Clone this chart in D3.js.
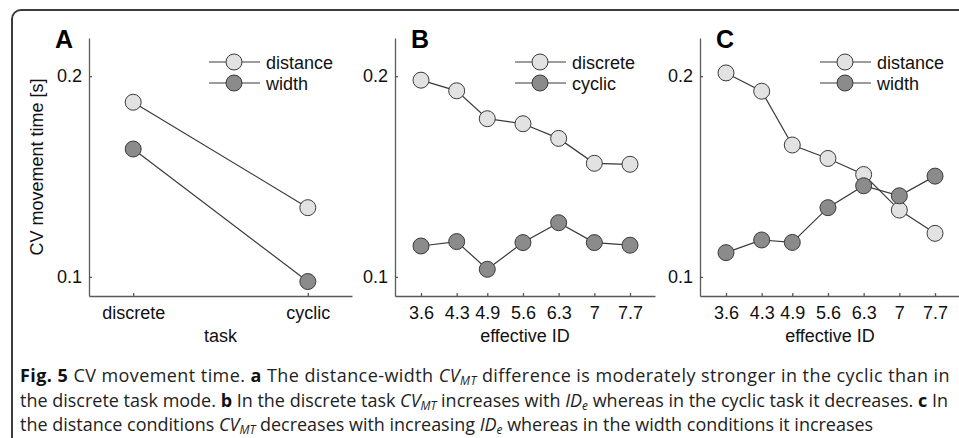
<!DOCTYPE html>
<html><head><meta charset="utf-8">
<script src="https://cdn.jsdelivr.net/npm/d3@7"></script>
<style>body{margin:0;background:#fff}svg{display:block}</style>
</head><body>
<svg id="c" width="959" height="438"></svg>
<script>
// ---------- data ----------
const taskCategories = ["discrete", "cyclic"];
const taskDistance = [0.187, 0.1345];
const taskWidth = [0.1637, 0.0977];

const effectiveID = [3.6, 4.3, 4.9, 5.6, 6.3, 7, 7.7];
const idTickLabels = ["3.6", "4.3", "4.9", "5.6", "6.3", "7", "7.7"];
const discreteByID = [0.198, 0.1927, 0.1788, 0.1763, 0.169, 0.1566, 0.1561];
const cyclicByID = [0.1154, 0.1176, 0.1038, 0.1171, 0.127, 0.1171, 0.1158];
const distanceByID = [0.2016, 0.1925, 0.1657, 0.159, 0.151, 0.1333, 0.1217];
const widthByID = [0.1121, 0.1184, 0.1172, 0.1345, 0.1454, 0.1404, 0.1502];

const yTicks = [0.1, 0.2];
const yTickLabels = ["0.1", "0.2"];

// ---------- style ----------
const FONT = "'Liberation Sans', Arimo, Arial, Helvetica, sans-serif";
const LIGHT = "#e2e2e2", DARK = "#8b8b8b", STROKE = "#3a3a3a", AXIS = "#5a5a5a";
const FS = 18;

const svg = d3.select("#c");

// outer frame
svg.append("rect").attr("x", 12).attr("y", 10).attr("width", 980).attr("height", 460)
  .attr("rx", 9).attr("fill", "none").attr("stroke", "#3c3c3c").attr("stroke-width", 2);

const y = d3.scaleLinear().domain([0.0905, 0.219]).range([296, 38]);

function panel(opts) {
  const g = svg.append("g");
  const x = opts.x;
  const [x0, x1] = x.range();
  const ya = d3.axisLeft(y).tickValues(yTicks).tickFormat((d, i) => yTickLabels[i])
    .tickSizeInner(-3).tickSizeOuter(0).tickPadding(7);
  const yg = g.append("g").attr("transform", `translate(${x0},0)`).call(ya);
  const xa = d3.axisBottom(x).tickSizeInner(-3).tickSizeOuter(0).tickPadding(10);
  if (opts.tickValues) xa.tickValues(opts.tickValues).tickFormat((d, i) => opts.tickLabels[i]);
  const xg = g.append("g").attr("transform", `translate(0,${y.range()[0]})`).call(xa);
  [yg, xg].forEach(a => {
    a.selectAll("path,line").attr("stroke", AXIS).attr("stroke-width", 1.3);
    a.selectAll("text").attr("font-family", FONT).attr("font-size", FS).attr("fill", "#111");
  });
  g.append("text").attr("x", (x0 + x1) / 2).attr("y", 342).attr("text-anchor", "middle")
    .attr("font-family", FONT).attr("font-size", FS).attr("fill", "#111").text(opts.xTitle);
  g.append("text").attr("x", opts.letterX).attr("y", 48).attr("text-anchor", "middle")
    .attr("font-family", FONT).attr("font-size", 25).attr("font-weight", "bold").attr("fill", "#000").text(opts.letter);
  const line = d3.line().x(d => x(d[0])).y(d => y(d[1]));
  opts.series.forEach(s => {
    const pts = opts.xs.map((v, i) => [v, s.values[i]]);
    g.append("path").attr("d", line(pts)).attr("fill", "none").attr("stroke", STROKE).attr("stroke-width", 1.2);
  });
  opts.series.forEach(s => {
    const pts = opts.xs.map((v, i) => [v, s.values[i]]);
    g.selectAll(null).data(pts).join("circle")
      .attr("cx", d => x(d[0])).attr("cy", d => y(d[1])).attr("r", 8)
      .attr("fill", s.fill).attr("stroke", STROKE).attr("stroke-width", 1);
  });
  opts.series.forEach((s, i) => {
    const cy = 62 + i * 21;
    g.append("line").attr("x1", x0 + 120).attr("x2", x0 + 171).attr("y1", cy).attr("y2", cy)
      .attr("stroke", STROKE).attr("stroke-width", 1.2);
    g.append("circle").attr("cx", x0 + 145).attr("cy", cy).attr("r", 8)
      .attr("fill", s.fill).attr("stroke", STROKE).attr("stroke-width", 1);
    g.append("text").attr("x", x0 + 177).attr("y", cy + 6.5)
      .attr("font-family", FONT).attr("font-size", FS).attr("fill", "#111").text(s.name);
  });
}

panel({
  x: d3.scalePoint().domain(taskCategories).range([89, 352]).padding(0.253),
  xs: taskCategories,
  xTitle: "task", letter: "A", letterX: 64,
  series: [{name: "distance", values: taskDistance, fill: LIGHT},
           {name: "width", values: taskWidth, fill: DARK}]
});
panel({
  x: d3.scaleLinear().domain([3.09, 8.19]).range([395, 655]),
  xs: effectiveID, tickValues: effectiveID, tickLabels: idTickLabels,
  xTitle: "effective ID", letter: "B", letterX: 420,
  series: [{name: "discrete", values: discreteByID, fill: LIGHT},
           {name: "cyclic", values: cyclicByID, fill: DARK}]
});
panel({
  x: d3.scaleLinear().domain([3.09, 8.19]).range([700, 960]),
  xs: effectiveID, tickValues: effectiveID, tickLabels: idTickLabels,
  xTitle: "effective ID", letter: "C", letterX: 725,
  series: [{name: "distance", values: distanceByID, fill: LIGHT},
           {name: "width", values: widthByID, fill: DARK}]
});

svg.append("text").attr("transform", "translate(43,167) rotate(-90)").attr("text-anchor", "middle")
  .attr("font-family", FONT).attr("font-size", FS).attr("fill", "#111").text("CV movement time [s]");

// ---------- caption ----------
const CAP_FONT = "'Open Sans', 'Noto Sans', sans-serif";
const captionLines = [
  [["b","Fig. 5"],["n"," CV movement time. "],["b","a"],["n"," The distance-width "],["i","CV"],["s","MT"],["n"," difference is moderately stronger in the cyclic than in"]],
  [["n","the discrete task mode. "],["b","b"],["n"," In the discrete task "],["i","CV"],["s","MT"],["n"," increases with "],["i","ID"],["s","e"],["n"," whereas in the cyclic task it decreases. "],["b","c"],["n"," In"]],
  [["n","the distance conditions "],["i","CV"],["s","MT"],["n"," decreases with increasing "],["i","ID"],["s","e"],["n"," whereas in the width conditions it increases"]]
];
const capBaselines = [381.5, 406.5, 431];
const capTargets = [930, 928, null];
function drawCaption(size, spacing) {
  svg.selectAll(".cap").remove();
  return captionLines.map((parts, li) => {
    const t = svg.append("text").attr("class", "cap").attr("x", 20).attr("y", capBaselines[li])
      .attr("font-family", CAP_FONT).attr("font-size", size).attr("fill", "#222")
      .attr("letter-spacing", spacing ? spacing[li] : 0);
    let sub = false;
    parts.forEach(([k, str]) => {
      const ts = t.append("tspan").text(str);
      if (k === "b") ts.attr("font-weight", "bold").attr("fill", "#111");
      if (k === "i") ts.attr("font-style", "italic");
      if (k === "s") { ts.attr("font-style", "italic").attr("font-size", size * 0.66).attr("dy", size * 0.18); sub = true; }
      else if (sub) { ts.attr("dy", -size * 0.18); sub = false; }
    });
    return t;
  });
}
let size = 16;
let lines = drawCaption(size);
let widths = lines.map(l => l.node().getComputedTextLength());
size = size * Math.min(capTargets[0] / widths[0], capTargets[1] / widths[1]);
lines = drawCaption(size);
widths = lines.map(l => l.node().getComputedTextLength());
const spacing = captionLines.map((parts, li) => {
  if (!capTargets[li]) return 0;
  const n = parts.map(p => p[1]).join("").length;
  return Math.max(0, (capTargets[li] - widths[li]) / n);
});
drawCaption(size, spacing);
</script>
</body></html>
